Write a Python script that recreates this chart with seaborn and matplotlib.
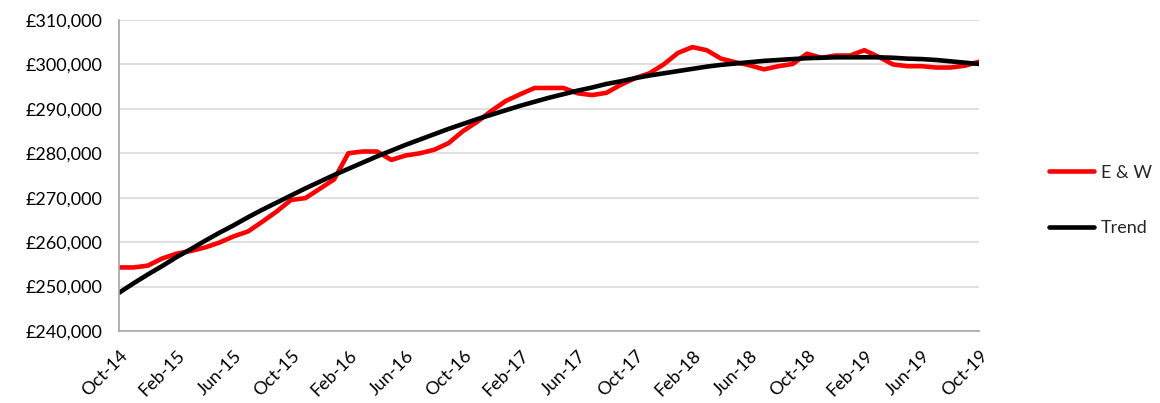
import pandas as pd
import matplotlib
matplotlib.use("Agg")
import matplotlib.pyplot as plt
import seaborn as sns
from matplotlib.ticker import FuncFormatter

# monthly values, Oct-14 .. Oct-19
months = pd.date_range("2014-10-01", "2019-10-01", freq="MS").strftime("%b-%y").tolist()

ew_price = [
    254300, 254300, 254700, 256300, 257400, 258000, 258800, 259900, 261300, 262400,
    264600, 266900, 269500, 269900, 272000, 274100, 280000, 280400, 280400, 278500,
    279500, 280000, 280800, 282300, 285000, 287100, 289600, 291800, 293300, 294700,
    294700, 294700, 293500, 293100, 293600, 295400, 296900, 298000, 300000, 302600,
    303900, 303200, 301300, 300500, 299800, 298900, 299600, 300100, 302400, 301500,
    302000, 302000, 303200, 301700, 300000, 299600, 299600, 299300, 299300, 299700,
    300600,
]

trend_price = [
    248600, 250700, 252700, 254600, 256600, 258400, 260300, 262100, 263800, 265600,
    267300, 268900, 270500, 272100, 273600, 275100, 276500, 277900, 279300, 280600,
    281900, 283100, 284300, 285500, 286600, 287700, 288700, 289700, 290700, 291600,
    292500, 293300, 294100, 294800, 295600, 296200, 296900, 297500, 298000, 298500,
    299000, 299500, 299900, 300200, 300500, 300800, 301000, 301200, 301400, 301500,
    301600, 301600, 301600, 301600, 301500, 301300, 301200, 301000, 300700, 300400,
    300100,
]

tick_step = 4
y_ticks = [240000, 250000, 260000, 270000, 280000, 290000, 300000, 310000]

df = pd.DataFrame({
    "month": list(range(len(months))) * 2,
    "price": ew_price + trend_price,
    "series": ["E & W"] * len(months) + ["Trend"] * len(months),
})

sns.set_style("white")
plt.rcParams["font.family"] = ["Lato", "DejaVu Sans"]

fig = plt.figure(figsize=(11.6, 4.03), dpi=100)
ax = fig.add_axes([0.1026, 0.1787, 0.7414, 0.7717])

sns.lineplot(
    data=df, x="month", y="price", hue="series",
    palette={"E & W": "#ff0000", "Trend": "#000000"},
    linewidth=3.3, ax=ax,
)

ax.set_xlim(0, len(months) - 1)
ax.set_ylim(y_ticks[0], y_ticks[-1])
ax.set_yticks(y_ticks)
ax.yaxis.set_major_formatter(FuncFormatter(lambda v, p: f"£{int(v):,}"))
ax.set_xticks(range(0, len(months), tick_step))
ax.set_xticklabels(months[::tick_step], rotation=45, ha="right", rotation_mode="anchor")

ax.grid(axis="y", color="#d9d9d9", linewidth=1.2)
ax.set_axisbelow(True)
for side in ["top", "right"]:
    ax.spines[side].set_visible(False)
for side in ["left", "bottom"]:
    ax.spines[side].set_color("#a6a6a6")
    ax.spines[side].set_linewidth(1.2)
ax.tick_params(axis="both", which="major", length=6, width=1.2, color="#a6a6a6",
               labelsize=13, labelcolor="black", direction="out")
ax.tick_params(axis="y", pad=6)
ax.tick_params(axis="x", pad=6)
ax.set_xlabel("")
ax.set_ylabel("")

ax.legend(title=None, frameon=False, loc="center left", bbox_to_anchor=(1.062, 0.42),
          fontsize=13, handlelength=2.5, handletextpad=0.4, labelspacing=2.2)

plt.savefig("out.png", dpi=100)
